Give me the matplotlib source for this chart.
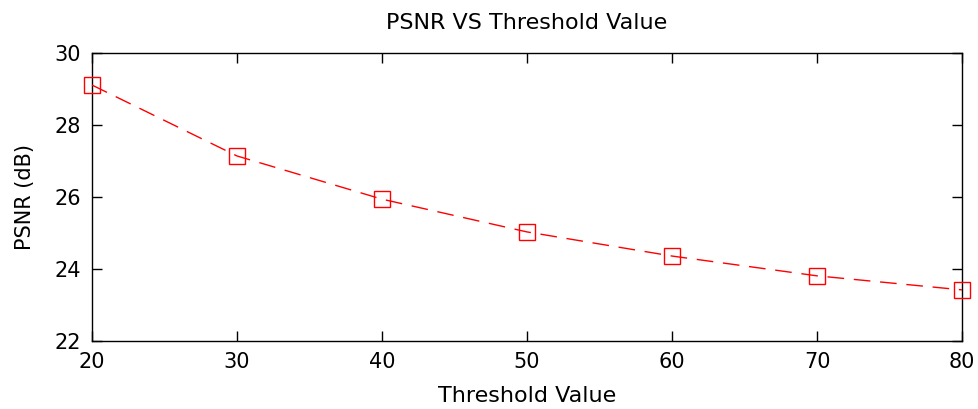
import numpy as np
import matplotlib.pyplot as plt

# Valeurs
threshold = [20, 30, 40, 50, 60, 70, 80]
psnr = [29.11, 27.14, 25.94, 25.03, 24.36, 23.81, 23.42]
xticks = [20, 30, 40, 50, 60, 70, 80]
yticks = [22, 24, 26, 28, 30]

plt.rcParams['font.family'] = ['DejaVu Sans']

fig = plt.figure(figsize=(9.79, 4.09), dpi=100)
ax = fig.add_axes([92/979, 1 - 341/409, (962-92)/979, (341-53)/409])

ax.plot(threshold, psnr, color='red', linestyle=(0, (12, 7)), linewidth=1.0,
        marker='s', markersize=11, markerfacecolor='none',
        markeredgecolor='red', markeredgewidth=1.0, clip_on=False, zorder=5)

ax.set_xlim(20, 80)
ax.set_ylim(22, 30)
ax.set_xticks(xticks)
ax.set_yticks(yticks)
ax.tick_params(direction='in', length=7, width=1, labelsize=15,
               top=True, right=True, pad=8)
for s in ax.spines.values():
    s.set_linewidth(1.0)

ax.set_title('PSNR VS Threshold Value', fontsize=16, pad=17)
ax.set_xlabel('Threshold Value', fontsize=16, labelpad=10)
ax.set_ylabel('PSNR (dB)', fontsize=15, labelpad=14)

fig.savefig('out.png', dpi=100)
